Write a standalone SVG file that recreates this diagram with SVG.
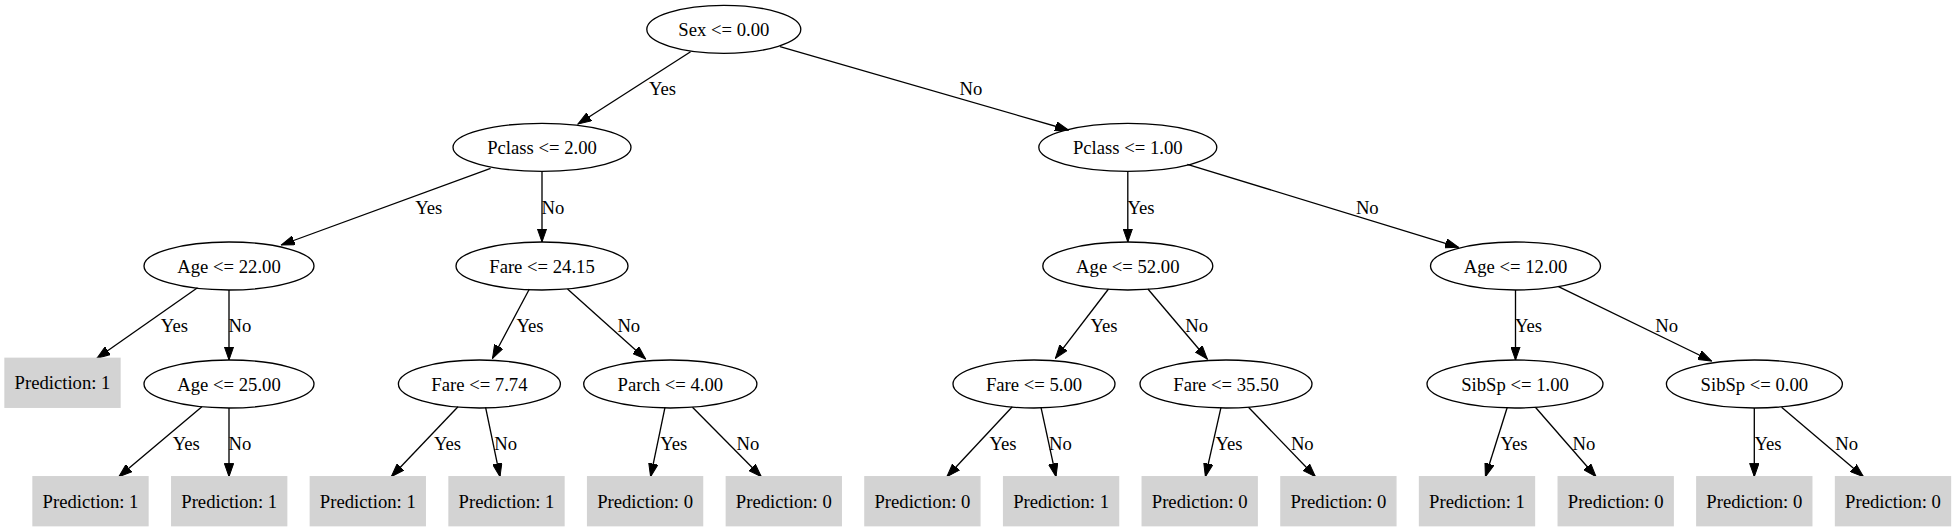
<svg xmlns="http://www.w3.org/2000/svg" width="1956" height="531" viewBox="0 0 1956 531">
<style>
text{font-family:"Liberation Serif","Times New Roman",serif;font-size:18.67px;fill:#000;text-anchor:middle}
.n ellipse{fill:none;stroke:#000;stroke-width:1.33}
.l rect{fill:#d3d3d3;stroke:#d3d3d3;stroke-width:1.33}
.e line{stroke:#000;stroke-width:1.33;marker-end:url(#ah)}
</style>
<defs>
<marker id="ah" markerUnits="userSpaceOnUse" markerWidth="14" markerHeight="10" refX="13.3" refY="0" viewBox="0 -5 14 10" orient="auto">
<path d="M0,-4.67L13.3,0L0,4.67z" fill="#000" stroke="#000" stroke-width="1"/>
</marker>
</defs>
<rect width="1956" height="531" fill="#fff"/>
<g id="connectors" class="e">
<line x1="690.6" y1="51.7" x2="578" y2="124"/>
<line x1="780" y1="46.7" x2="1068.5" y2="130"/>
<line x1="490.6" y1="168.3" x2="281.3" y2="245"/>
<line x1="542" y1="171.3" x2="542" y2="242"/>
<line x1="1127.8" y1="171.3" x2="1127.8" y2="242"/>
<line x1="1187.3" y1="164.3" x2="1458.5" y2="247.3"/>
<line x1="197.5" y1="287.7" x2="96.9" y2="358.3"/>
<line x1="229" y1="290" x2="229" y2="360"/>
<line x1="529.4" y1="289" x2="492.5" y2="358.3"/>
<line x1="567.5" y1="289" x2="645.6" y2="359"/>
<line x1="1108.5" y1="289" x2="1055.4" y2="358.3"/>
<line x1="1147.9" y1="289" x2="1207.3" y2="359"/>
<line x1="1515.5" y1="290" x2="1515.5" y2="360"/>
<line x1="1558.5" y1="286.7" x2="1711.6" y2="361"/>
<line x1="201.9" y1="406.7" x2="118.8" y2="476.7"/>
<line x1="229" y1="408" x2="229" y2="476.7"/>
<line x1="458" y1="406.7" x2="391.3" y2="476.7"/>
<line x1="485.6" y1="407.3" x2="500" y2="476.7"/>
<line x1="665" y1="407.3" x2="650.6" y2="476.7"/>
<line x1="692.5" y1="407.3" x2="761.3" y2="476.7"/>
<line x1="1012.3" y1="406.7" x2="946.9" y2="476.7"/>
<line x1="1041" y1="407.3" x2="1056" y2="476.7"/>
<line x1="1221" y1="407.3" x2="1205.4" y2="476.7"/>
<line x1="1248.5" y1="407.3" x2="1315.4" y2="476.7"/>
<line x1="1507.3" y1="407.3" x2="1485.4" y2="476.7"/>
<line x1="1535.4" y1="407.3" x2="1596" y2="476.7"/>
<line x1="1754.3" y1="408" x2="1754.3" y2="476.7"/>
<line x1="1781.6" y1="407.3" x2="1863.5" y2="476.7"/>
<text x="662.5" y="95">Yes</text><text x="971" y="95">No</text>
<text x="428.8" y="213.5">Yes</text><text x="553" y="213.5">No</text>
<text x="1141" y="213.5">Yes</text><text x="1367.3" y="213.5">No</text>
<text x="174.4" y="331.5">Yes</text><text x="240" y="331.5">No</text>
<text x="530" y="331.5">Yes</text><text x="628.8" y="331.5">No</text>
<text x="1104" y="331.5">Yes</text><text x="1196.6" y="331.5">No</text>
<text x="1528.5" y="331.5">Yes</text><text x="1666.6" y="331.5">No</text>
<text x="186.3" y="449.5">Yes</text><text x="240" y="449.5">No</text>
<text x="447.5" y="449.5">Yes</text><text x="505.6" y="449.5">No</text>
<text x="673.8" y="449.5">Yes</text><text x="748" y="449.5">No</text>
<text x="1003" y="449.5">Yes</text><text x="1060.4" y="449.5">No</text>
<text x="1229" y="449.5">Yes</text><text x="1302.3" y="449.5">No</text>
<text x="1514" y="449.5">Yes</text><text x="1584" y="449.5">No</text>
<text x="1768" y="449.5">Yes</text><text x="1846.6" y="449.5">No</text>
</g>
<g id="n0" class="n"><ellipse cx="723.8" cy="29.3" rx="77" ry="24"/><text x="723.8" y="35.8">Sex &lt;= 0.00</text></g>
<g id="n1" class="n"><ellipse cx="542" cy="147.3" rx="89" ry="24"/><text x="542" y="153.8">Pclass &lt;= 2.00</text></g>
<g id="n2" class="n"><ellipse cx="1127.8" cy="147.3" rx="89" ry="24"/><text x="1127.8" y="153.8">Pclass &lt;= 1.00</text></g>
<g id="n3" class="n"><ellipse cx="229" cy="266" rx="85" ry="24"/><text x="229" y="272.5">Age &lt;= 22.00</text></g>
<g id="n4" class="n"><ellipse cx="542" cy="266" rx="86" ry="24"/><text x="542" y="272.5">Fare &lt;= 24.15</text></g>
<g id="n5" class="n"><ellipse cx="1127.8" cy="266" rx="85" ry="24"/><text x="1127.8" y="272.5">Age &lt;= 52.00</text></g>
<g id="n6" class="n"><ellipse cx="1515.5" cy="266" rx="85" ry="24"/><text x="1515.5" y="272.5">Age &lt;= 12.00</text></g>
<g id="n7" class="l"><rect x="5" y="358.3" width="115" height="49"/><text x="62.5" y="389.3">Prediction: 1</text></g>
<g id="n8" class="n"><ellipse cx="229" cy="384" rx="85" ry="24"/><text x="229" y="390.5">Age &lt;= 25.00</text></g>
<g id="n9" class="n"><ellipse cx="479.4" cy="384" rx="81" ry="24"/><text x="479.4" y="390.5">Fare &lt;= 7.74</text></g>
<g id="n10" class="n"><ellipse cx="670.3" cy="384" rx="86.6" ry="24"/><text x="670.3" y="390.5">Parch &lt;= 4.00</text></g>
<g id="n11" class="n"><ellipse cx="1034" cy="384" rx="81" ry="24"/><text x="1034" y="390.5">Fare &lt;= 5.00</text></g>
<g id="n12" class="n"><ellipse cx="1226" cy="384" rx="86" ry="24"/><text x="1226" y="390.5">Fare &lt;= 35.50</text></g>
<g id="n13" class="n"><ellipse cx="1515" cy="384" rx="88" ry="24"/><text x="1515" y="390.5">SibSp &lt;= 1.00</text></g>
<g id="n14" class="n"><ellipse cx="1754.4" cy="384" rx="88" ry="24"/><text x="1754.4" y="390.5">SibSp &lt;= 0.00</text></g>
<g id="n15" class="l"><rect x="33" y="476.7" width="115" height="49"/><text x="90.5" y="507.7">Prediction: 1</text></g>
<g id="n16" class="l"><rect x="171.7" y="476.7" width="115" height="49"/><text x="229.2" y="507.7">Prediction: 1</text></g>
<g id="n17" class="l"><rect x="310.3" y="476.7" width="115" height="49"/><text x="367.8" y="507.7">Prediction: 1</text></g>
<g id="n18" class="l"><rect x="449" y="476.7" width="115" height="49"/><text x="506.5" y="507.7">Prediction: 1</text></g>
<g id="n19" class="l"><rect x="587.6" y="476.7" width="115" height="49"/><text x="645.1" y="507.7">Prediction: 0</text></g>
<g id="n20" class="l"><rect x="726.3" y="476.7" width="115" height="49"/><text x="783.8" y="507.7">Prediction: 0</text></g>
<g id="n21" class="l"><rect x="864.9" y="476.7" width="115" height="49"/><text x="922.4" y="507.7">Prediction: 0</text></g>
<g id="n22" class="l"><rect x="1003.6" y="476.7" width="115" height="49"/><text x="1061.1" y="507.7">Prediction: 1</text></g>
<g id="n23" class="l"><rect x="1142.2" y="476.7" width="115" height="49"/><text x="1199.7" y="507.7">Prediction: 0</text></g>
<g id="n24" class="l"><rect x="1280.9" y="476.7" width="115" height="49"/><text x="1338.4" y="507.7">Prediction: 0</text></g>
<g id="n25" class="l"><rect x="1419.5" y="476.7" width="115" height="49"/><text x="1477" y="507.7">Prediction: 1</text></g>
<g id="n26" class="l"><rect x="1558.2" y="476.7" width="115" height="49"/><text x="1615.7" y="507.7">Prediction: 0</text></g>
<g id="n27" class="l"><rect x="1696.8" y="476.7" width="115" height="49"/><text x="1754.3" y="507.7">Prediction: 0</text></g>
<g id="n28" class="l"><rect x="1835.5" y="476.7" width="115" height="49"/><text x="1893" y="507.7">Prediction: 0</text></g>
</svg>
